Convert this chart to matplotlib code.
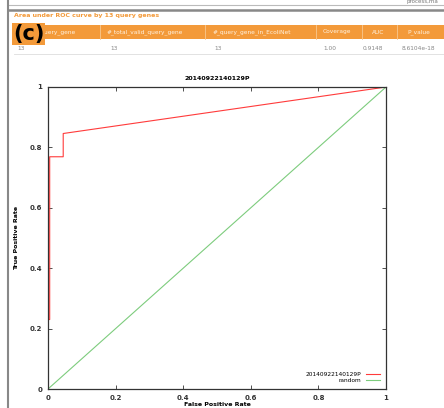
import matplotlib.pyplot as plt
from matplotlib.lines import Line2D
from matplotlib.patches import Rectangle

# ROC 곡선 데이터
fpr = [0.0, 0.0, 0.005, 0.005, 0.045, 0.045, 1.0]
tpr = [0.0, 0.23, 0.23, 0.769, 0.769, 0.846, 1.0]
rand_x = [0.0, 1.0]
rand_y = [0.0, 1.0]

curve_name = "20140922140129P"
ticks = [0, 0.2, 0.4, 0.6, 0.8, 1]
tick_labels = ["0", "0.2", "0.4", "0.6", "0.8", "1"]

# 표 내용
headers = ["#_total_query_gene", "#_total_valid_query_gene", "#_query_gene_in_EcoliNet",
           "Coverage", "AUC", "P_value"]
row = ["13", "13", "13", "1.00", "0.9148", "8.6104e-18"]
head_x = [17, 107, 213, 323, 372, 407]
row_x = [17, 110, 214, 323, 363, 402]
col_lines = [100, 205, 316, 362, 397]

W, H = 444, 408
orange = "#f39a3a"


def px(x, y):
    return x / W, 1 - y / H


fig = plt.figure(figsize=(4.44, 4.08), dpi=100)
fig.patch.set_facecolor("white")

# 페이지 테두리
fig.add_artist(Line2D([px(8, 0)[0], 1], [px(0, 5)[1]] * 2, color="#bbbbbb", lw=0.8))
fig.add_artist(Line2D([px(8, 0)[0], 1], [px(0, 10)[1]] * 2, color="#888888", lw=1.8))
fig.add_artist(Line2D([px(8, 0)[0]] * 2, [0, 1], color="#888888", lw=1.5))
fig.text(*px(406, 2), "process,ma", fontsize=4, color="#777777", va="center")

fig.text(*px(14, 16), "Area under ROC curve by 13 query genes", fontsize=4.5,
         color=orange, fontweight="bold", va="center")

# 표 헤더
x0, y0 = px(14, 39)
fig.add_artist(Rectangle((x0, y0), 1 - x0, 14 / H, color=orange, lw=0))
for cx in col_lines:
    fig.add_artist(Line2D([cx / W] * 2, [px(0, 39)[1], px(0, 25)[1]],
                          color="#f8c890", lw=0.6))
for hx, h in zip(head_x, headers):
    fig.text(*px(hx, 32), h, fontsize=4.2, color="#fff2e0", va="center")
for rx, r in zip(row_x, row):
    fig.text(*px(rx, 48), r, fontsize=4.2, color="#888888", va="center")
fig.add_artist(Line2D([px(14, 0)[0], 1], [px(0, 54)[1]] * 2, color="#dddddd", lw=0.6))

# (c) 라벨은 헤더 위에 겹쳐서 찍힘
fig.text(*px(13, 34), "(c)", fontsize=15, fontweight="bold", color="black",
         va="center", zorder=10,
         bbox=dict(facecolor=orange, edgecolor="none", pad=0.5))

# ROC 그래프
ax = fig.add_axes([48 / W, 19 / H, 338 / W, 302 / H])
ax.plot(fpr, tpr, color="#ff3b3b", lw=0.8, label=curve_name)
ax.plot(rand_x, rand_y, color="#7dcc7d", lw=0.8, label="random")
ax.set_xlim(0, 1)
ax.set_ylim(0, 1)
ax.set_xticks(ticks)
ax.set_yticks(ticks)
ax.set_xticklabels(tick_labels)
ax.set_yticklabels(tick_labels)
ax.tick_params(direction="in", length=3, width=0.6, labelsize=5, pad=4,
               top=True, right=True, colors="#333333")
for lbl in ax.get_xticklabels() + ax.get_yticklabels():
    lbl.set_fontweight("bold")
for s in ax.spines.values():
    s.set_linewidth(0.9)
    s.set_color("#333333")

ax.set_title(curve_name, fontsize=4.5, fontweight="bold", pad=5)
ax.set_xlabel("False Positive Rate", fontsize=4.5, fontweight="bold", labelpad=1)
ax.set_ylabel("True Positive Rate", fontsize=4.5, fontweight="bold", labelpad=8)
ax.legend(loc="lower right", frameon=False, fontsize=4.2, markerfirst=False,
          handlelength=2.5, labelspacing=0.2, borderaxespad=0.6)

fig.savefig("out.png", dpi=100)
